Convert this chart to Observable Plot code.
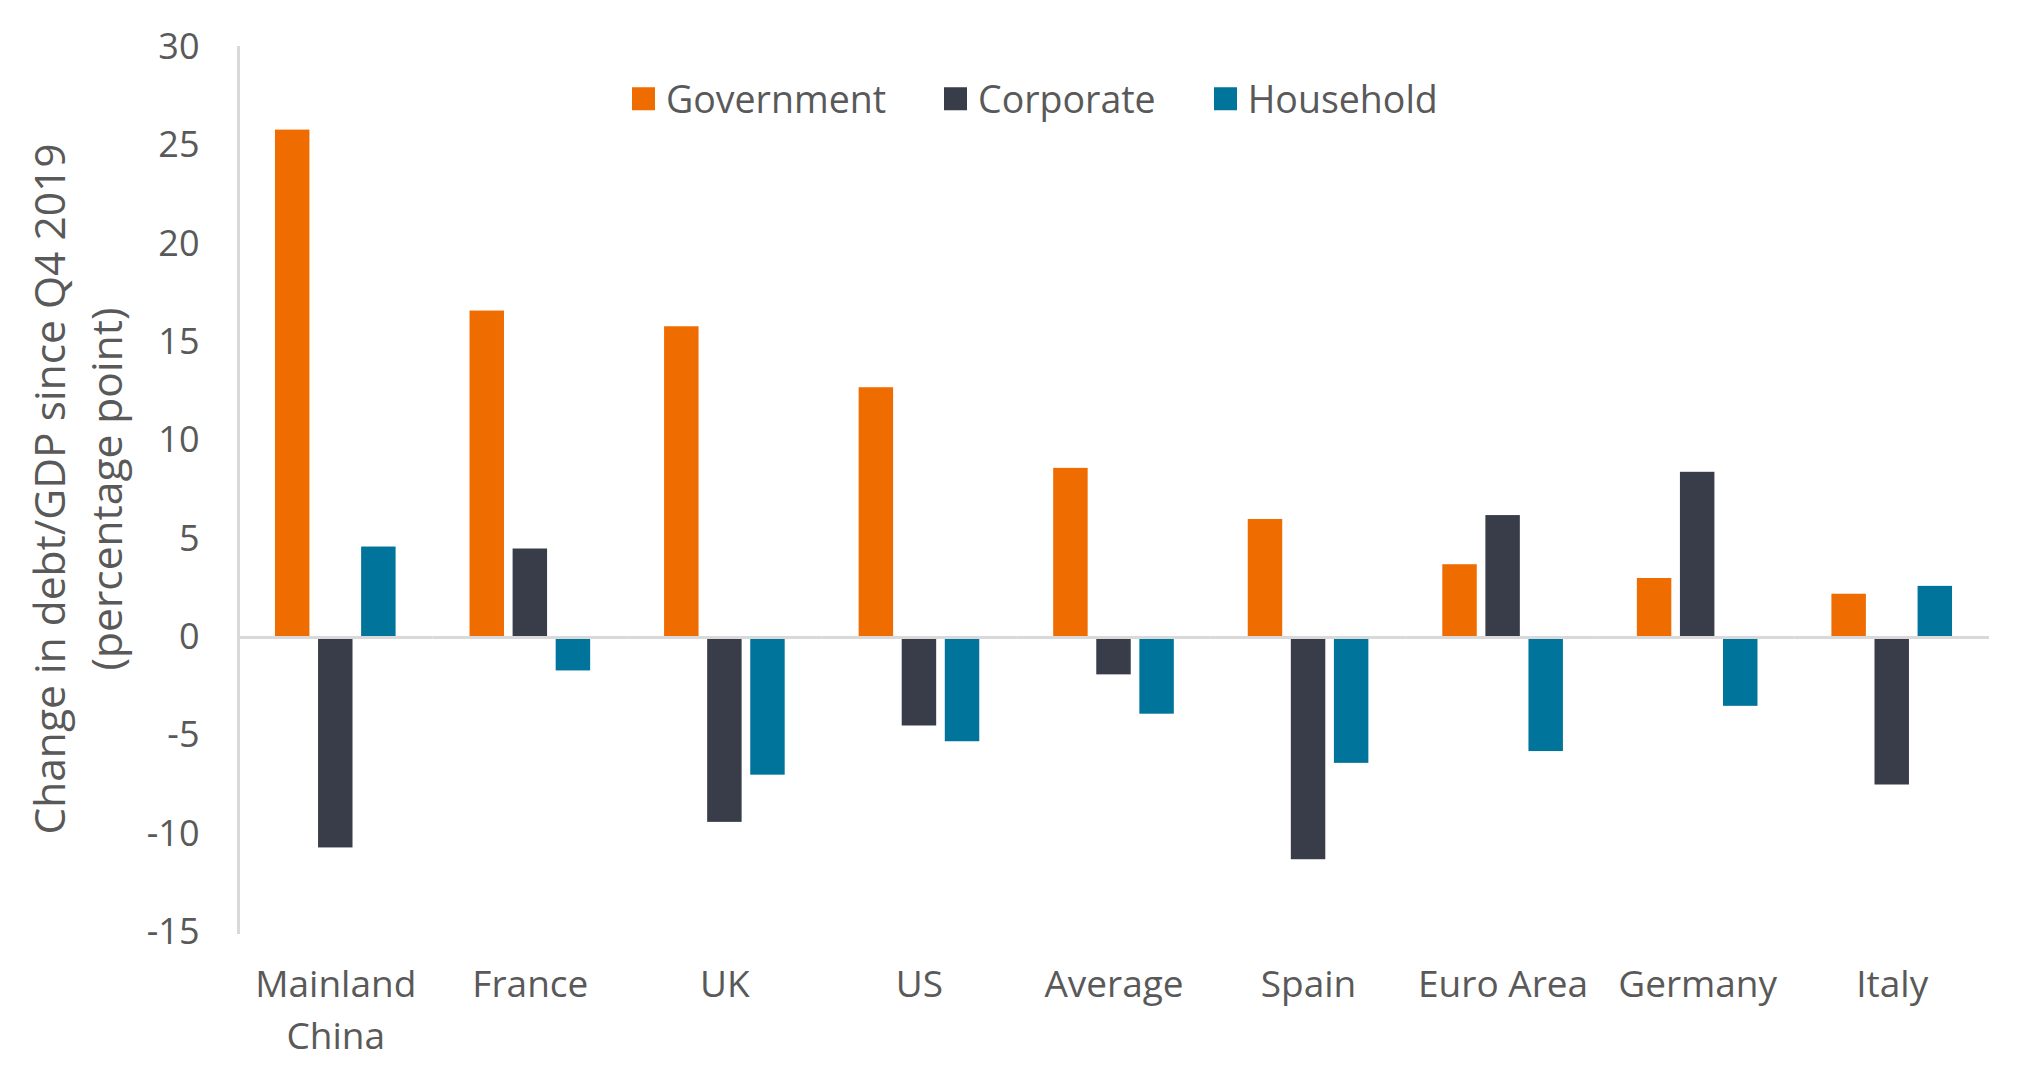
<!DOCTYPE html>
<html>
<head>
<meta charset="utf-8">
<script src="https://cdn.jsdelivr.net/npm/d3@7"></script>
<script src="https://cdn.jsdelivr.net/npm/@observablehq/plot@0.6"></script>
<style>
  html, body { margin: 0; padding: 0; background: #ffffff; }
  #wrap { position: relative; width: 2042px; height: 1072px; font-family: "Open Sans", sans-serif; color: #595959; overflow: hidden; }
  #legend { position: absolute; top: 99px; left: 632px; transform: translateY(-50%); display: flex; align-items: center; font-size: 37.5px; line-height: 1; white-space: nowrap; }
  #legend .item { display: flex; align-items: center; margin-right: 58px; }
  #legend .sw { width: 23px; height: 23px; margin-right: 11px; }
  #ytitle { position: absolute; left: 77px; top: 489px; transform: translate(-50%, -50%) rotate(-90deg); text-align: center; white-space: nowrap; font-size: 42.5px; line-height: 57px; }
</style>
</head>
<body>
<div id="wrap"></div>
<script>
const countries = ["Mainland China", "France", "UK", "US", "Average", "Spain", "Euro Area", "Germany", "Italy"];
const series = ["Government", "Corporate", "Household"];
const government = [25.8, 16.6, 15.8, 12.7, 8.6, 6.0, 3.7, 3.0, 2.2];
const corporate  = [-10.7, 4.5, -9.4, -4.5, -1.9, -11.3, 6.2, 8.4, -7.5];
const household  = [4.6, -1.7, -7.0, -5.3, -3.9, -6.4, -5.8, -3.5, 2.6];
const seriesColors = ["#EF6C00", "#383D49", "#00749A"];
const yTicks = [-15, -10, -5, 0, 5, 10, 15, 20, 25, 30];
const yTitleLines = ["Change in debt/GDP since Q4 2019", "(percentage point)"];

const valuesBySeries = [government, corporate, household];
const data = countries.flatMap((c, i) => series.map((s, j) => ({country: c, series: s, value: valuesBySeries[j][i]})));

const W = 2042, H = 1072, mL = 238, mR = 53, mT = 47, mB = 140;
const padIn = 0.38, padOut = padIn / 2;
const step = (W - mL - mR) / (countries.length - padIn + 2 * padOut);
const gapHalf = (step * padIn) / 2;

const chart = Plot.plot({
  width: W,
  height: H,
  marginLeft: mL,
  marginRight: mR,
  marginTop: mT,
  marginBottom: mB,
  style: {fontFamily: '"Open Sans", sans-serif', fontSize: "36px", color: "#595959", background: "#ffffff"},
  fx: {domain: countries, paddingInner: padIn, paddingOuter: padOut, round: false, label: null},
  x: {domain: series, paddingInner: 0.2, paddingOuter: 0, round: false, axis: null},
  y: {domain: [-15, 30], ticks: yTicks, label: null},
  color: {domain: series, range: seriesColors},
  marks: [
    Plot.frame({anchor: "left", facet: "super", stroke: "#D9D9D9", strokeWidth: 3, dx: -gapHalf}),
    Plot.axisY({ticks: yTicks, tickSize: 0, tickPadding: 39 + gapHalf, label: null, fontSize: 36, tickFormat: d => String(d)}),
    Plot.axisFx({anchor: "bottom", tickSize: 0, tickPadding: 27, label: null, fontSize: 37, lineWidth: 6, lineHeight: 1.42}),
    Plot.barY(data, {fx: "country", x: "series", y: "value", fill: "series"}),
    Plot.ruleY([0], {stroke: "#D9D9D9", strokeWidth: 3, insetLeft: -gapHalf, insetRight: -gapHalf})
  ]
});

const wrap = document.getElementById("wrap");
wrap.appendChild(chart);

const legend = document.createElement("div");
legend.id = "legend";
series.forEach((s, i) => {
  const item = document.createElement("div");
  item.className = "item";
  const sw = document.createElement("span");
  sw.className = "sw";
  sw.style.background = seriesColors[i];
  const lab = document.createElement("span");
  lab.textContent = s;
  item.appendChild(sw);
  item.appendChild(lab);
  legend.appendChild(item);
});
wrap.appendChild(legend);

const yt = document.createElement("div");
yt.id = "ytitle";
yt.innerHTML = yTitleLines.map(t => `<div>${t}</div>`).join("");
wrap.appendChild(yt);
</script>
</body>
</html>
